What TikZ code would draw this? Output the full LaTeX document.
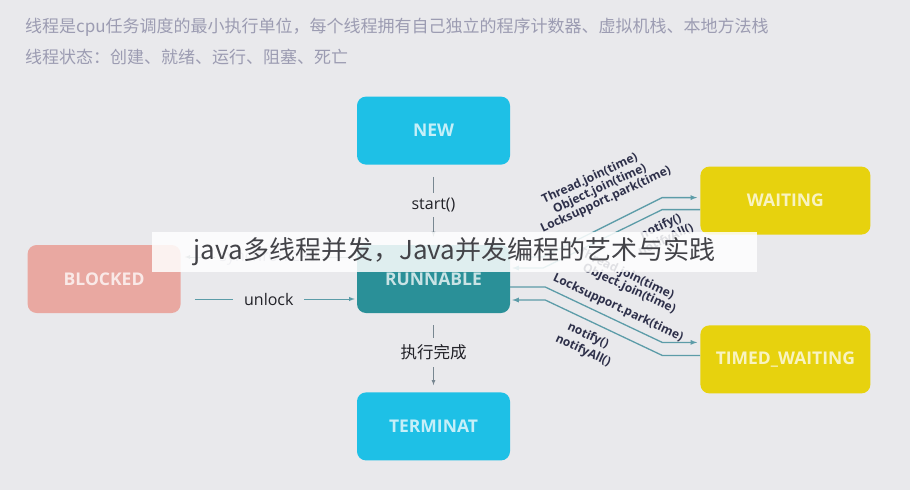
\documentclass[tikz,border=0pt]{standalone}
\usepackage{fontspec}
\setmainfont{Open Sans}
\newfontfamily\cjk{Noto Sans CJK SC}
\usetikzlibrary{positioning}
\definecolor{bgclr}{RGB}{233,233,236}
\definecolor{newclr}{RGB}{30,192,230}
\definecolor{runclr}{RGB}{42,144,152}
\definecolor{blkclr}{RGB}{233,168,161}
\definecolor{waitclr}{RGB}{231,210,14}
\definecolor{lineclr}{RGB}{92,156,168}
\definecolor{stepclr}{RGB}{120,135,145}
\definecolor{callclr}{RGB}{46,48,74}
\definecolor{hdrclr}{RGB}{156,156,178}
\definecolor{txtclr}{RGB}{34,34,40}
\tikzset{ %
  ,>=latex
  ,state/.style={rounded corners=9pt, minimum width=153pt, minimum height=68pt, inner sep=0, font=\bfseries\fontsize{17.5}{17.5}\selectfont, text=white, text opacity=0.75}
  ,flow/.style={draw=lineclr, line width=1.3pt}
  ,stepline/.style={draw=stepclr, line width=0.8pt}
  ,act/.style={fill=bgclr, inner xsep=4pt, inner ysep=5pt, text=txtclr, font=\fontsize{16}{16}\selectfont}
  ,call/.style={inner sep=0, text=callclr, font=\bfseries\fontsize{12}{12}\selectfont}
  ,note/.style={inner sep=0, text=hdrclr, font=\cjk\fontsize{17}{17}\selectfont}
}
\begin{document}
\begin{tikzpicture}[x=1pt, y=-1pt]
  \fill[bgclr] (0,0) rectangle (910,490);
  % header
  \node[note, anchor=west] (line1) at (25,27) {线程是cpu任务调度的最小执行单位，每个线程拥有自己独立的程序计数器、虚拟机栈、本地方法栈};
  \node[note, anchor=west] (line2) at (25,57) {线程状态：创建、就绪、运行、阻塞、死亡};
  % states
  \node[state, fill=runclr] (runnable) at (433.5,279) {RUNNABLE};
  \node[state, fill=newclr, above=80pt of runnable] (new) {NEW};
  \node[state, fill=newclr, below=79pt of runnable] (terminat) {TERMINAT};
  \node[state, fill=blkclr, left=176pt of runnable] (blocked) {BLOCKED};
  \node[state, fill=waitclr, minimum width=170pt, above right=10pt and 190pt of runnable] (waiting) {WAITING};
  \node[state, fill=waitclr, minimum width=170pt, below right=12pt and 190pt of runnable] (timed) {TIMED\_WAITING};
  % vertical steps
  \draw[stepline, ->, shorten <=12pt, shorten >=8pt] (new) -- node[act] {start()} (runnable);
  \draw[stepline, ->, shorten <=12pt, shorten >=7pt] (runnable) -- node[act, font=\cjk\fontsize{16.5}{16.5}\selectfont, inner ysep=7pt] {执行完成} (terminat);
  \draw[flow, line width=1pt, ->, shorten <=14pt, shorten >=2pt] ([yshift=-20pt]blocked.east) -- node[act, inner xsep=11pt] {unlock} ([yshift=-20pt]runnable.west);
  \draw[stepline, ->, shorten <=4pt, shorten >=4pt] ([yshift=22pt]runnable.west) -- node[act, text=hdrclr] {synchronized} ([yshift=22pt]blocked.east);
  % waiting
  \draw[flow, ->, shorten >=3pt] ([yshift=22pt]runnable.east) -- ++(33,0) -- ([xshift=-38pt, yshift=3pt]waiting.west) -- ([yshift=3pt]waiting.west);
  \draw[flow, ->, shorten >=2pt] ([yshift=-9pt]waiting.west) -- ++(-38,0) -- ([xshift=33pt, yshift=11pt]runnable.east) -- ([yshift=11pt]runnable.east);
  \node[call, rotate=25] (wjoin) at (590,179) {Thread.join(time)};
  \node[call, rotate=25] (wobj) at (600,189) {Object.join(time)};
  \node[call, rotate=25] (wpark) at (606,200) {Locksupport.park(time)};
  \node[call, rotate=25] (wnote) at (661,227) {notify()};
  \node[call, rotate=25] (wall) at (666,240) {notifyAll()};
  % timed waiting
  \draw[flow, ->, shorten >=3pt] ([yshift=-8pt]runnable.east) -- ++(35,0) -- ([xshift=-38pt, yshift=17pt]timed.west) -- ([yshift=17pt]timed.west);
  \draw[flow, ->, shorten >=2pt] ([yshift=4pt]timed.west) -- ++(-38,0) -- ([xshift=35pt, yshift=-21pt]runnable.east) -- ([yshift=-21pt]runnable.east);
  \node[call, rotate=-25] (tjoin) at (626,274) {Thread.join(time)};
  \node[call, rotate=-25] (tobj) at (629,289) {Object.join(time)};
  \node[call, rotate=-25] (tpark) at (618,308) {Locksupport.park(time)};
  \node[call, rotate=-25] (tnote) at (588,336) {notify()};
  \node[call, rotate=-25] (tall) at (583,351) {notifyAll()};
  % banner
  \node[fill=white, fill opacity=0.85, text opacity=1, minimum width=605pt, minimum height=40pt, inner sep=0, text=txtclr!85, font=\cjk\fontsize{26}{26}\selectfont] (banner) at (454.5,252) {java多线程并发，Java并发编程的艺术与实践};
\end{tikzpicture}
\end{document}
